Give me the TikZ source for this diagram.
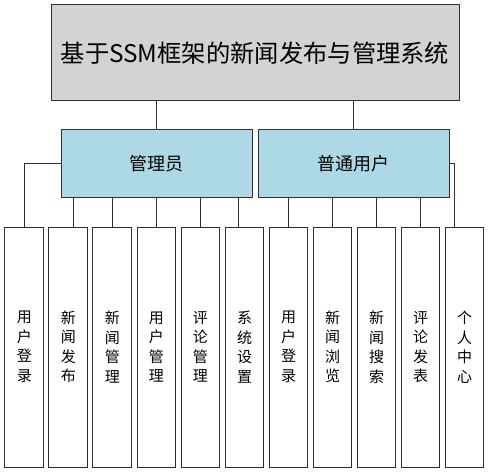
\documentclass[tikz,border=0pt]{standalone}
\usepackage{fontspec}
\setmainfont{Noto Sans CJK SC}
\definecolor{sysgray}{HTML}{D3D3D3}
\definecolor{roleblue}{HTML}{ADD8E6}
\definecolor{edgegray}{HTML}{303030}
\tikzset{
  sysbox/.style={draw=edgegray, line width=1pt, fill=sysgray,
    minimum width=408pt, minimum height=96pt, inner sep=0pt,
    font=\fontsize{24.3}{24.3}\selectfont},
  rolebox/.style={draw=edgegray, line width=1pt, fill=roleblue,
    minimum width=191pt, minimum height=67pt, inner sep=0pt,
    font=\fontsize{18}{18}\selectfont},
  funcbox/.style={draw=edgegray, line width=1pt, fill=white,
    minimum width=38.7pt, minimum height=240pt, inner sep=0pt,
    align=center, font=\fontsize{15}{19.5}\selectfont}
}
\begin{document}
\begin{tikzpicture}[x=1pt,y=-1pt]
      \useasboundingbox (0,0) rectangle (489,473);
      \draw
        (255,53) node[sysbox] (sys){基于SSM框架的新闻发布与管理系统}
        (156.5,163.5) node[rolebox] (admin){管理员}
        (353.5,163.5) node[rolebox] (user){普通用户};
      \draw
        (24.3,347) node[funcbox] (f1){用\\户\\登\\录}
        (68.3,347) node[funcbox] (f2){新\\闻\\发\\布}
        (112.3,347) node[funcbox] (f3){新\\闻\\管\\理}
        (156.4,347) node[funcbox] (f4){用\\户\\管\\理}
        (200.4,347) node[funcbox] (f5){评\\论\\管\\理}
        (244.5,347) node[funcbox] (f6){系\\统\\设\\置}
        (288.5,347) node[funcbox] (f7){用\\户\\登\\录}
        (332.5,347) node[funcbox] (f8){新\\闻\\浏\\览}
        (376.5,347) node[funcbox] (f9){新\\闻\\搜\\索}
        (420.5,347) node[funcbox] (f10){评\\论\\发\\表}
        (464.5,347) node[funcbox] (f11){个\\人\\中\\心};
      \begin{scope}[draw=edgegray, line width=1pt]
        \draw (admin.north |- sys.south) to (admin.north);
        \draw (user.north |- sys.south) to (user.north);
        \draw (admin.west) -| (f1.north);
        \draw ([xshift=5.4pt]f2.north |- admin.south) to ([xshift=5.4pt]f2.north);
        \draw (f3.north |- admin.south) to (f3.north);
        \draw (f4.north |- admin.south) to (f4.north);
        \draw (f5.north |- admin.south) to (f5.north);
        \draw ([xshift=-5.8pt]f6.north |- admin.south) to ([xshift=-5.8pt]f6.north);
        \draw (f7.north |- user.south) to (f7.north);
        \draw (f8.north |- user.south) to (f8.north);
        \draw (f9.north |- user.south) to (f9.north);
        \draw (f10.north |- user.south) to (f10.north);
        \draw (user.east) -| ([xshift=-10.5pt]f11.north);
      \end{scope}
    \end{tikzpicture}
\end{document}
